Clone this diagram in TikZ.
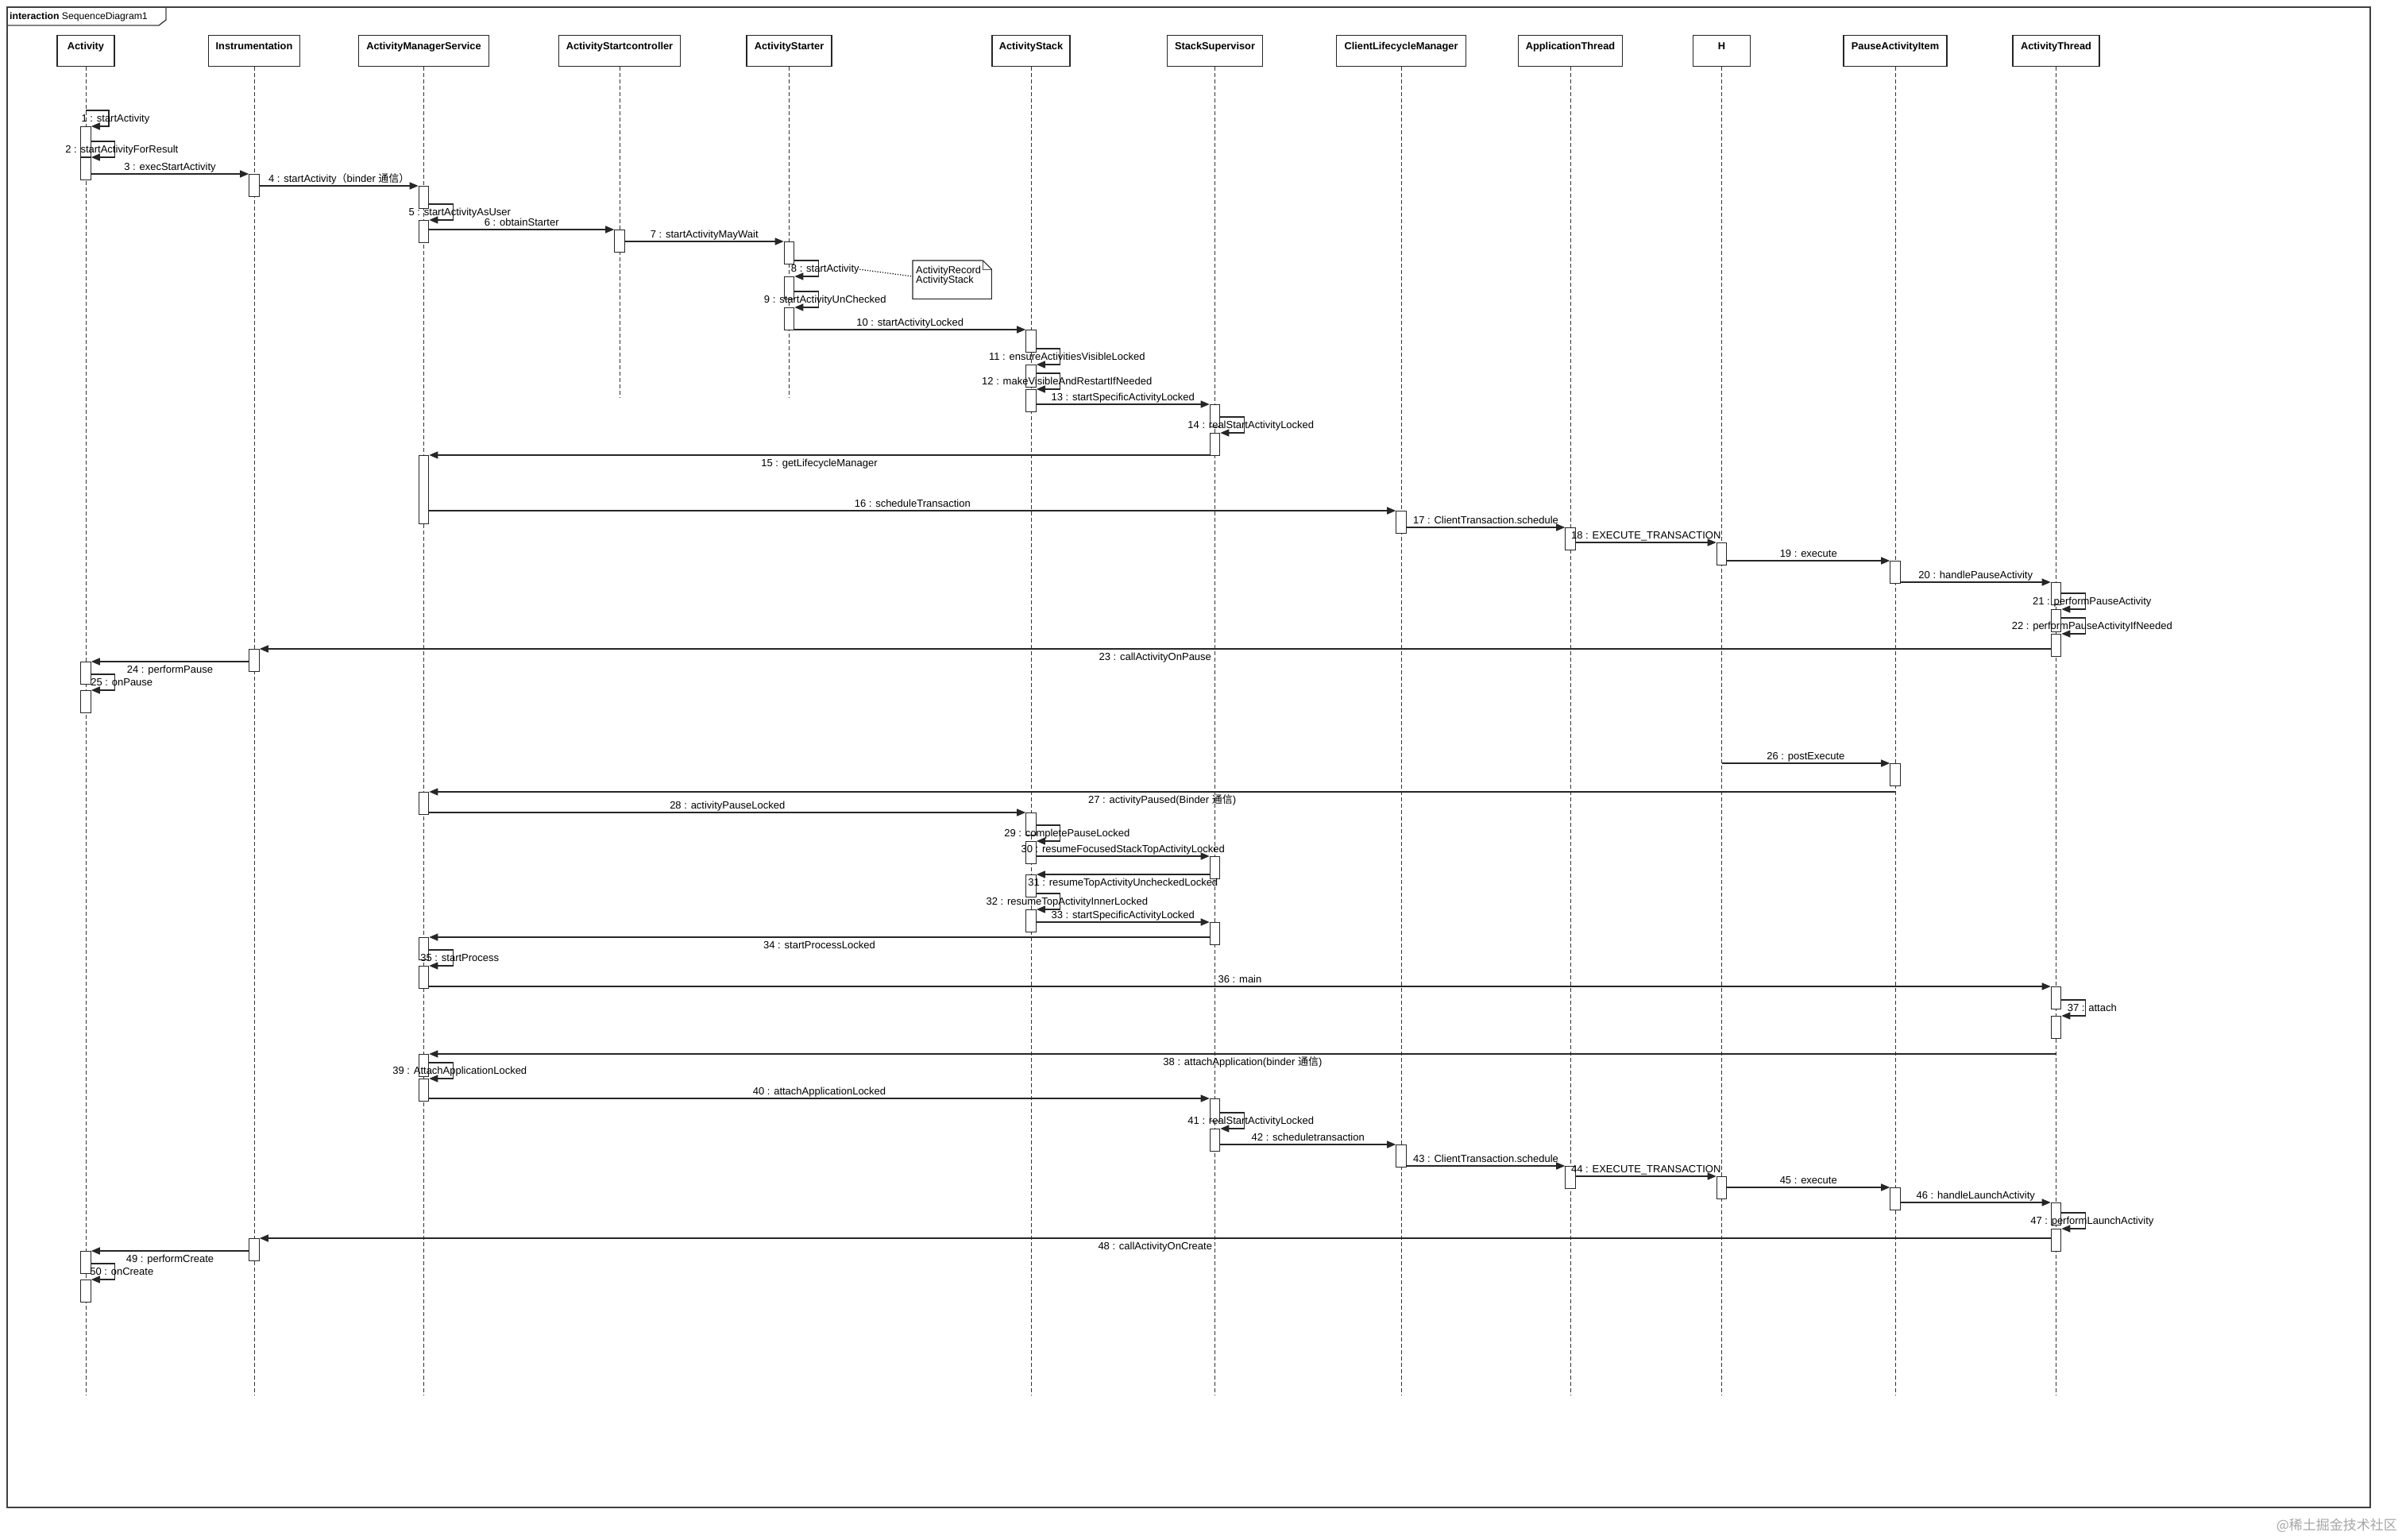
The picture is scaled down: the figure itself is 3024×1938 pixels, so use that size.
\documentclass[tikz,border=0pt]{standalone}
\usepackage{fontspec}
\setmainfont{Liberation Sans}
\newfontfamily\cjk{Noto Sans CJK SC}
\usetikzlibrary{positioning, arrows.meta}
\tikzset{
    x=1pt, y=-1pt, % One unit is one pixel of the sketch, y runs downwards
    frame/.style={draw=black!75, line width=1.4pt},
    object/.style={ % Sets the properties for each lifeline head
        draw=black!85, line width=1.2pt, fill=white,
        anchor=north, inner xsep=4pt, inner ysep=5pt,
        text height=12.5pt, text depth=16.5pt,
        font=\bfseries\fontsize{12.8}{15}\selectfont
    },
    lifeline/.style={draw=black!80, line width=0.9pt, dash pattern=on 5pt off 3pt},
    activation/.style={ % Sets the properties for each activation bar
        draw=black!85, line width=1.1pt, fill=white, anchor=north,
        minimum width=12.5pt, minimum height=27.5pt, inner sep=0pt
    },
    message/.style={ % Sets the properties for each call
        draw=black!85, line width=1.3pt,
        -{Triangle[length=11pt, width=9pt]} % Filled heads as in UML
    },
    callname/.style={anchor=base, inner sep=0pt, yshift=5pt},
    returnname/.style={anchor=base, inner sep=0pt, yshift=-14.6pt},
    selfname/.style={anchor=base, inner sep=0pt, xshift=8.5pt, yshift=-4.6pt},
    note/.style={draw=none, anchor=north west, minimum width=99pt, minimum height=48pt},
    every node/.style={font=\fontsize{13}{15}\selectfont}
}

\begin{document}
\begin{tikzpicture}
    \useasboundingbox (0,0) rectangle (3024,1938);
    \fill[white] (0,0) rectangle (3024,1938);

    \draw[frame] (9,9) rectangle (2984,1898);
    \node[anchor=west, inner sep=0pt, font=\fontsize{12.2}{14}\selectfont] (title) at (12,21) {\textbf{interaction} SequenceDiagram1};
    \draw[frame] (9,32) -- (200,32) -- (209,25) -- (209,9);

    \node[object, minimum width=72pt] (act) at (108,44) {Activity};
    \node[object, minimum width=115pt] (ins) at (320,44) {Instrumentation};
    \node[object, minimum width=164pt] (ams) at (533.5,44) {ActivityManagerService};
    \node[object, minimum width=153pt] (asc) at (780,44) {ActivityStartcontroller};
    \node[object, minimum width=107pt] (ast) at (993.5,44) {ActivityStarter};
    \node[object, minimum width=98pt] (stk) at (1298,44) {ActivityStack};
    \node[object, minimum width=120pt] (sup) at (1529.5,44) {StackSupervisor};
    \node[object, minimum width=163pt] (clm) at (1764,44) {ClientLifecycleManager};
    \node[object, minimum width=131pt] (apt) at (1977,44) {ApplicationThread};
    \node[object, minimum width=72pt] (hh) at (2167.5,44) {H};
    \node[object, minimum width=130pt] (pai) at (2386,44) {PauseActivityItem};
    \node[object, minimum width=109pt] (ath) at (2588.5,44) {ActivityThread};

    \coordinate (lowend) at (0,1757);
    \coordinate (midend) at (0,501);
    \draw[lifeline] (act.south) -- (act.south |- lowend);
    \draw[lifeline] (ins.south) -- (ins.south |- lowend);
    \draw[lifeline] (ams.south) -- (ams.south |- lowend);
    \draw[lifeline] (asc.south) -- (asc.south |- midend);
    \draw[lifeline] (ast.south) -- (ast.south |- midend);
    \draw[lifeline] (stk.south) -- (stk.south |- lowend);
    \draw[lifeline] (sup.south) -- (sup.south |- lowend);
    \draw[lifeline] (clm.south) -- (clm.south |- lowend);
    \draw[lifeline] (apt.south) -- (apt.south |- lowend);
    \draw[lifeline] (hh.south) -- (hh.south |- lowend);
    \draw[lifeline] (pai.south) -- (pai.south |- lowend);
    \draw[lifeline] (ath.south) -- (ath.south |- lowend);

    \node[activation, minimum height=38pt] (a1) at (act |- 0,159) {};
    \node[activation] (a2) at (act |- 0,198) {};
    \node[activation] (a3) at (act |- 0,833) {};
    \node[activation] (a4) at (act |- 0,869) {};
    \node[activation] (a5) at (act |- 0,1575) {};
    \node[activation] (a6) at (act |- 0,1611) {};
    \node[activation] (i1) at (ins |- 0,219) {};
    \node[activation] (i2) at (ins |- 0,817) {};
    \node[activation] (i3) at (ins |- 0,1559) {};
    \node[activation] (m1) at (ams |- 0,234) {};
    \node[activation] (m2) at (ams |- 0,277) {};
    \node[activation, minimum height=86pt] (m3) at (ams |- 0,573) {};
    \node[activation] (m4) at (ams |- 0,997) {};
    \node[activation] (m5) at (ams |- 0,1180) {};
    \node[activation] (m6) at (ams |- 0,1216) {};
    \node[activation] (m7) at (ams |- 0,1327) {};
    \node[activation] (m8) at (ams |- 0,1358) {};
    \node[activation] (c1) at (asc |- 0,289) {};
    \node[activation] (s1) at (ast |- 0,304) {};
    \node[activation] (s2) at (ast |- 0,348) {};
    \node[activation] (s3) at (ast |- 0,387) {};
    \node[activation] (k1) at (stk |- 0,415) {};
    \node[activation] (k2) at (stk |- 0,459) {};
    \node[activation] (k3) at (stk |- 0,490) {};
    \node[activation] (k4) at (stk |- 0,1023) {};
    \node[activation] (k5) at (stk |- 0,1059) {};
    \node[activation] (k6) at (stk |- 0,1101) {};
    \node[activation] (k7) at (stk |- 0,1145) {};
    \node[activation] (u1) at (sup |- 0,509) {};
    \node[activation] (u2) at (sup |- 0,545) {};
    \node[activation] (u3) at (sup |- 0,1078) {};
    \node[activation] (u4) at (sup |- 0,1161) {};
    \node[activation] (u5) at (sup |- 0,1383) {};
    \node[activation] (u6) at (sup |- 0,1421) {};
    \node[activation] (l1) at (clm |- 0,643) {};
    \node[activation] (l2) at (clm |- 0,1441) {};
    \node[activation] (p1) at (apt |- 0,664) {};
    \node[activation] (p2) at (apt |- 0,1468) {};
    \node[activation] (h1) at (hh |- 0,683) {};
    \node[activation] (h2) at (hh |- 0,1481) {};
    \node[activation] (q1) at (pai |- 0,706) {};
    \node[activation] (q2) at (pai |- 0,961) {};
    \node[activation] (q3) at (pai |- 0,1495) {};
    \node[activation] (t1) at (ath |- 0,733) {};
    \node[activation] (t2) at (ath |- 0,767) {};
    \node[activation] (t3) at (ath |- 0,798) {};
    \node[activation] (t4) at (ath |- 0,1242) {};
    \node[activation] (t5) at (ath |- 0,1279) {};
    \node[activation] (t6) at (ath |- 0,1514) {};
    \node[activation] (t7) at (ath |- 0,1547) {};

    \node[note] (rec) at (1149,328) {};
    \draw[line width=1.1pt, draw=black!85] (rec.north west) -- ([xshift=-11pt]rec.north east) -- ([yshift=-11pt]rec.north east) -- (rec.south east) -- (rec.south west) -- cycle;
    \draw[line width=0.8pt, draw=black!70] ([xshift=-11pt]rec.north east) -- ([xshift=-11pt, yshift=-11pt]rec.north east) -- ([yshift=-11pt]rec.north east);
    \node[anchor=north west, inner sep=0pt, align=left, font=\fontsize{12.8}{12.3}\selectfont] (rectext) at ([xshift=4pt, yshift=-7pt]rec.north west) {ActivityRecord\\ActivityStack};

    \draw[message] ([yshift=20pt]a1.north) -- ++(29,0) -- node[selfname] {1 : startActivity} ++(0,20) -- (a1.north east);
    \draw[message] ([yshift=20pt]a2.north east) -- ++(30,0) -- node[selfname] {2 : startActivityForResult} ++(0,20) -- (a2.north east);
    \draw[message] (a2.east |- i1.north) -- node[callname] {3 : execStartActivity} (i1.north west);
    \draw[message] (i1.east |- m1.north) -- node[callname] {4 : startActivity{\cjk （}binder {\cjk 通信）}} (m1.north west);
    \draw[message] ([yshift=20pt]m2.north east) -- ++(30,0) -- node[selfname] {5 : startActivityAsUser} ++(0,20) -- (m2.north east);
    \draw[message] (m2.east |- c1.north) -- node[callname] {6 : obtainStarter} (c1.north west);
    \draw[message] (c1.east |- s1.north) -- node[callname] {7 : startActivityMayWait} (s1.north west);
    \draw[message] ([yshift=20pt]s2.north east) -- ++(30,0) -- node[selfname] (l8) {8 : startActivity} ++(0,20) -- (s2.north east);
    \draw[line width=1.2pt, dotted] (l8.east) -- ([yshift=-20pt]rec.north west);
    \draw[message] ([yshift=20pt]s3.north east) -- ++(30,0) -- node[selfname] {9 : startActivityUnChecked} ++(0,20) -- (s3.north east);
    \draw[message] (s3.east |- k1.north) -- node[callname] {10 : startActivityLocked} (k1.north west);
    \draw[message] ([yshift=20pt]k2.north east) -- ++(30,0) -- node[selfname] {11 : ensureActivitiesVisibleLocked} ++(0,20) -- (k2.north east);
    \draw[message] ([yshift=20pt]k3.north east) -- ++(30,0) -- node[selfname] {12 : makeVisibleAndRestartIfNeeded} ++(0,20) -- (k3.north east);
    \draw[message] (k3.east |- u1.north) -- node[callname] {13 : startSpecificActivityLocked} (u1.north west);
    \draw[message] ([yshift=20pt]u2.north east) -- ++(30,0) -- node[selfname] {14 : realStartActivityLocked} ++(0,20) -- (u2.north east);
    \draw[message] (u2.west |- m3.north) -- node[returnname] {15 : getLifecycleManager} (m3.north east);
    \draw[message] (m3.east |- l1.north) -- node[callname] {16 : scheduleTransaction} (l1.north west);
    \draw[message] (l1.east |- p1.north) -- node[callname] {17 : ClientTransaction.schedule} (p1.north west);
    \draw[message] (p1.east |- h1.north) -- node[callname] {18 : EXECUTE\_TRANSACTION} (h1.north west);
    \draw[message] (h1.east |- q1.north) -- node[callname] {19 : execute} (q1.north west);
    \draw[message] (q1.east |- t1.north) -- node[callname] {20 : handlePauseActivity} (t1.north west);
    \draw[message] ([yshift=20pt]t2.north east) -- ++(30,0) -- node[selfname] {21 : performPauseActivity} ++(0,20) -- (t2.north east);
    \draw[message] ([yshift=20pt]t3.north east) -- ++(30,0) -- node[selfname] {22 : performPauseActivityIfNeeded} ++(0,20) -- (t3.north east);
    \draw[message] (t3.west |- i2.north) -- node[returnname] {23 : callActivityOnPause} (i2.north east);
    \draw[message] (i2.west |- a3.north) -- node[returnname] {24 : performPause} (a3.north east);
    \draw[message] ([yshift=20pt]a4.north east) -- ++(30,0) -- node[selfname] {25 : onPause} ++(0,20) -- (a4.north east);
    \draw[message] (hh.south |- q2.north) -- node[callname] {26 : postExecute} (q2.north west);
    \draw[message] (pai.south |- m4.north) -- node[returnname] {27 : activityPaused(Binder {\cjk 通信})} (m4.north east);
    \draw[message] (m4.east |- k4.north) -- node[callname] {28 : activityPauseLocked} (k4.north west);
    \draw[message] ([yshift=20pt]k5.north east) -- ++(30,0) -- node[selfname] {29 : completePauseLocked} ++(0,20) -- (k5.north east);
    \draw[message] (k5.east |- u3.north) -- node[callname] {30 : resumeFocusedStackTopActivityLocked} (u3.north west);
    \draw[message] (u3.west |- k6.north) -- node[returnname] {31 : resumeTopActivityUncheckedLocked} (k6.north east);
    \draw[message] ([yshift=20pt]k7.north east) -- ++(30,0) -- node[selfname] {32 : resumeTopActivityInnerLocked} ++(0,20) -- (k7.north east);
    \draw[message] (k7.east |- u4.north) -- node[callname] {33 : startSpecificActivityLocked} (u4.north west);
    \draw[message] (u4.west |- m5.north) -- node[returnname] {34 : startProcessLocked} (m5.north east);
    \draw[message] ([yshift=20pt]m6.north east) -- ++(30,0) -- node[selfname] {35 : startProcess} ++(0,20) -- (m6.north east);
    \draw[message] (m6.east |- t4.north) -- node[callname] {36 : main} (t4.north west);
    \draw[message] ([yshift=20pt]t5.north east) -- ++(30,0) -- node[selfname] {37 : attach} ++(0,20) -- (t5.north east);
    \draw[message] (ath.south |- m7.north) -- node[returnname] {38 : attachApplication(binder {\cjk 通信})} (m7.north east);
    \draw[message] ([yshift=20pt]m8.north east) -- ++(30,0) -- node[selfname] {39 : AttachApplicationLocked} ++(0,20) -- (m8.north east);
    \draw[message] (m8.east |- u5.north) -- node[callname] {40 : attachApplicationLocked} (u5.north west);
    \draw[message] ([yshift=20pt]u6.north east) -- ++(30,0) -- node[selfname] {41 : realStartActivityLocked} ++(0,20) -- (u6.north east);
    \draw[message] (u6.east |- l2.north) -- node[callname] {42 : scheduletransaction} (l2.north west);
    \draw[message] (l2.east |- p2.north) -- node[callname] {43 : ClientTransaction.schedule} (p2.north west);
    \draw[message] (p2.east |- h2.north) -- node[callname] {44 : EXECUTE\_TRANSACTION} (h2.north west);
    \draw[message] (h2.east |- q3.north) -- node[callname] {45 : execute} (q3.north west);
    \draw[message] (q3.east |- t6.north) -- node[callname] {46 : handleLaunchActivity} (t6.north west);
    \draw[message] ([yshift=20pt]t7.north east) -- ++(30,0) -- node[selfname] {47 : performLaunchActivity} ++(0,20) -- (t7.north east);
    \draw[message] (t7.west |- i3.north) -- node[returnname] {48 : callActivityOnCreate} (i3.north east);
    \draw[message] (i3.west |- a5.north) -- node[returnname] {49 : performCreate} (a5.north east);
    \draw[message] ([yshift=20pt]a6.north east) -- ++(30,0) -- node[selfname] {50 : onCreate} ++(0,20) -- (a6.north east);

    \node[anchor=east, inner sep=0pt, text=black!35, font=\cjk\fontsize{17}{20}\selectfont] (mark) at (3018,1921) {@稀土掘金技术社区};
\end{tikzpicture}
\end{document}
